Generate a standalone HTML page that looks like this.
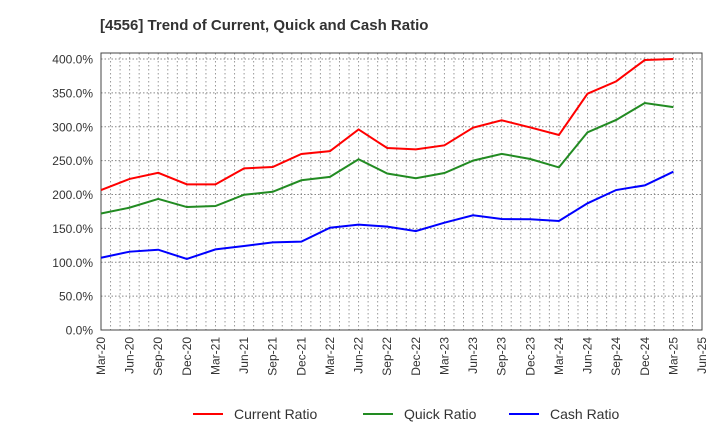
<!DOCTYPE html>
<html><head><meta charset="utf-8"><style>
body{margin:0;background:#fff;font-family:"Liberation Sans",sans-serif;}
</style></head><body>
<svg id="chart" width="720" height="440" xmlns="http://www.w3.org/2000/svg">
<text x="100" y="30" font-size="15" font-weight="bold" fill="#333">[4556]  Trend of Current, Quick and Cash Ratio</text>
<g id="grid"></g><g id="axes"></g><g id="series"></g><g id="legend"></g>
</svg>
<script>
const xLabels=["Mar-20","Jun-20","Sep-20","Dec-20","Mar-21","Jun-21","Sep-21","Dec-21","Mar-22","Jun-22","Sep-22","Dec-22","Mar-23","Jun-23","Sep-23","Dec-23","Mar-24","Jun-24","Sep-24","Dec-24","Mar-25","Jun-25"];
const yTicks=[0,50,100,150,200,250,300,350,400];
const currentRatio=[206.6,223,232,215,215,238.6,240.6,259.8,264,296,268.6,266.6,272.6,298.6,309.5,299,287.8,348.8,367,398.5,400];
const quickRatio=[172,180.6,193.4,181.5,183,199.7,204,221,226,252,231,224,231.7,250,260,252.4,240,291.8,310,335,329];
const cashRatio=[106.7,115.6,118.5,104.8,119,124,129.4,130.4,151,155.5,152.6,146,158.4,169.3,163.8,163.4,160.9,187,206.6,213.5,233.7];
const L=101,R=702,T=53,B=330;
const NS="http://www.w3.org/2000/svg";
const xq=i=>L+i*(R-L)/(xLabels.length-1);
const yv=v=>B-v*(B-59)/400;
function mk(tag,attrs,parent){const e=document.createElementNS(NS,tag);for(const k in attrs)e.setAttribute(k,attrs[k]);parent.appendChild(e);return e;}
const grid=document.getElementById('grid'),axes=document.getElementById('axes'),ser=document.getElementById('series'),leg=document.getElementById('legend');
const nMonths=(xLabels.length-1)*3;
for(let m=1;m<nMonths;m++){const x=L+m*(R-L)/nMonths;const l=mk('line',{x1:x,x2:x,y1:T,y2:B,stroke:'#999','stroke-dasharray':'1.5,2.5','stroke-width':1},grid);

}
yTicks.forEach(v=>{const y=yv(v);
if(v>0){const l=mk('line',{x1:L,x2:R,y1:y,y2:y,stroke:'#888','stroke-dasharray':'1.5,2','stroke-width':1},grid);

}
const t=mk('text',{x:93,y:y+4.5,'text-anchor':'end','font-size':12,fill:'#333'},axes);t.textContent=v.toFixed(1)+'%';

});
xLabels.forEach((s,i)=>{const x=xq(i);const t=mk('text',{x:0,y:0,transform:`translate(${x+4},337) rotate(-90)`,'text-anchor':'end','font-size':12,fill:'#333'},axes);t.textContent=s;

});
const frame=mk('rect',{x:L,y:T,width:R-L,height:B-T,fill:'none',stroke:'#444','stroke-width':1},axes);


const series=[[currentRatio,'#ff0000','current-ratio-line','Current Ratio',193],[quickRatio,'#228b22','quick-ratio-line','Quick Ratio',363],[cashRatio,'#0000ff','cash-ratio-line','Cash Ratio',509]];
series.forEach(([d,c,n,lab,lx])=>{const p=mk('polyline',{points:d.map((v,i)=>xq(i)+','+yv(v)).join(' '),fill:'none',stroke:c,'stroke-width':2},ser);


const g=mk('g',{},leg);


mk('line',{x1:lx,x2:lx+30,y1:414,y2:414,stroke:c,'stroke-width':2},g);
const t=mk('text',{x:lx+41,y:419,'font-size':14,fill:'#333'},g);t.textContent=lab;});
</script>
</body></html>
